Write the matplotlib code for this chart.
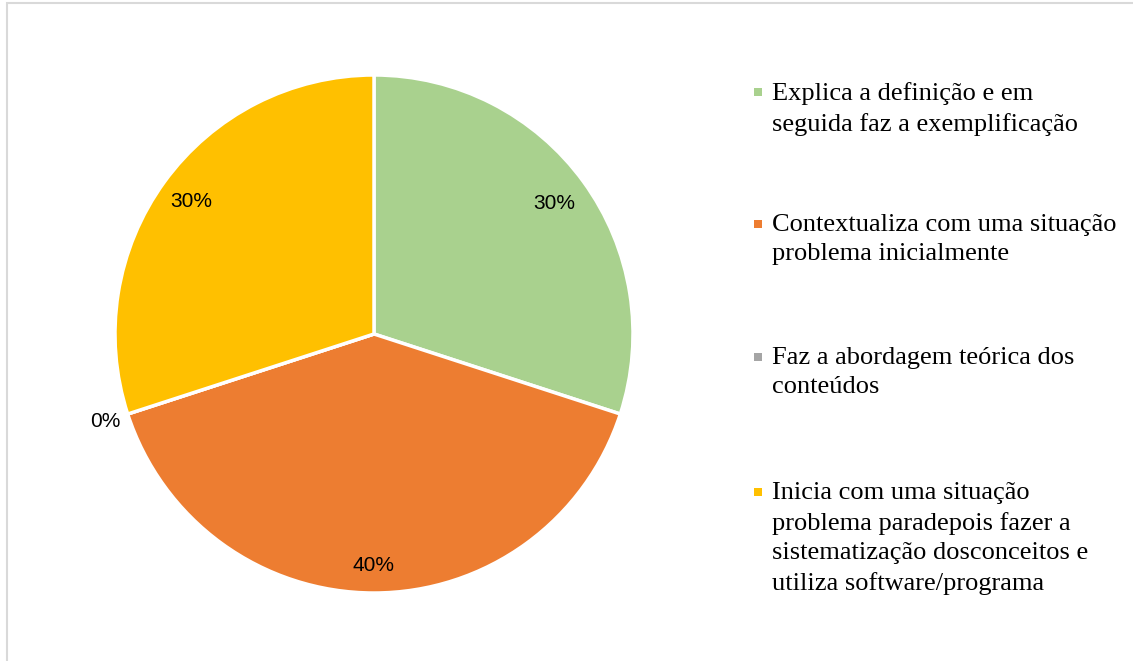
import numpy as np
import matplotlib.pyplot as plt
from matplotlib.patches import Rectangle

categories = [
    "Explica a definição e em\nseguida faz a exemplificação",
    "Contextualiza com uma situação\nproblema inicialmente",
    "Faz a abordagem teórica dos\nconteúdos",
    "Inicia com uma situação\nproblema paradepois fazer a\nsistematização dosconceitos e\nutiliza software/programa",
]
values = [30, 40, 0, 30]
pct_labels = ["30%", "40%", "0%", "30%"]
colors = ["#A9D18E", "#ED7D31", "#A5A5A5", "#FFC000"]

W, H = 1133, 661
fig = plt.figure(figsize=(W / 100, H / 100), dpi=100)

# light frame of the chart area
fig.patches.append(Rectangle((7 / W, -0.1), 1.2, 1 - 3 / H + 0.1, transform=fig.transFigure,
                             fill=False, edgecolor="#D9D9D9", linewidth=1.5))

cx, cy, r = 374, 334, 259
ax = fig.add_axes([(cx - r) / W, (H - cy - r) / H, 2 * r / W, 2 * r / H])

wedges, _ = ax.pie(values, colors=colors, startangle=90, counterclock=False, radius=1,
                   wedgeprops=dict(edgecolor="white", linewidth=2.5))
ax.set_xlim(-1, 1)
ax.set_ylim(-1, 1)
ax.set_aspect("equal")
ax.axis("off")

label_r = [0.86, 0.895, 1.09, 0.87]
for w, lab, lr in zip(wedges, pct_labels, label_r):
    ang = np.deg2rad((w.theta1 + w.theta2) / 2)
    ax.text(lr * np.cos(ang), lr * np.sin(ang), lab, ha="center", va="center",
            fontsize=15, family="Liberation Sans", color="#000000", clip_on=False)

# legend
leg_y = [92, 224, 357, 492]
for lab, col, y in zip(categories, colors, leg_y):
    fig.patches.append(Rectangle((754 / W, (H - y - 4) / H), 8 / W, 8 / H,
                                 transform=fig.transFigure, facecolor=col, edgecolor="none"))
    fig.text(772 / W, (H - y + 10) / H, lab, ha="left", va="top", fontsize=19,
             family="Liberation Serif", linespacing=1.43, color="#000000")

fig.savefig("out.png", dpi=100)
